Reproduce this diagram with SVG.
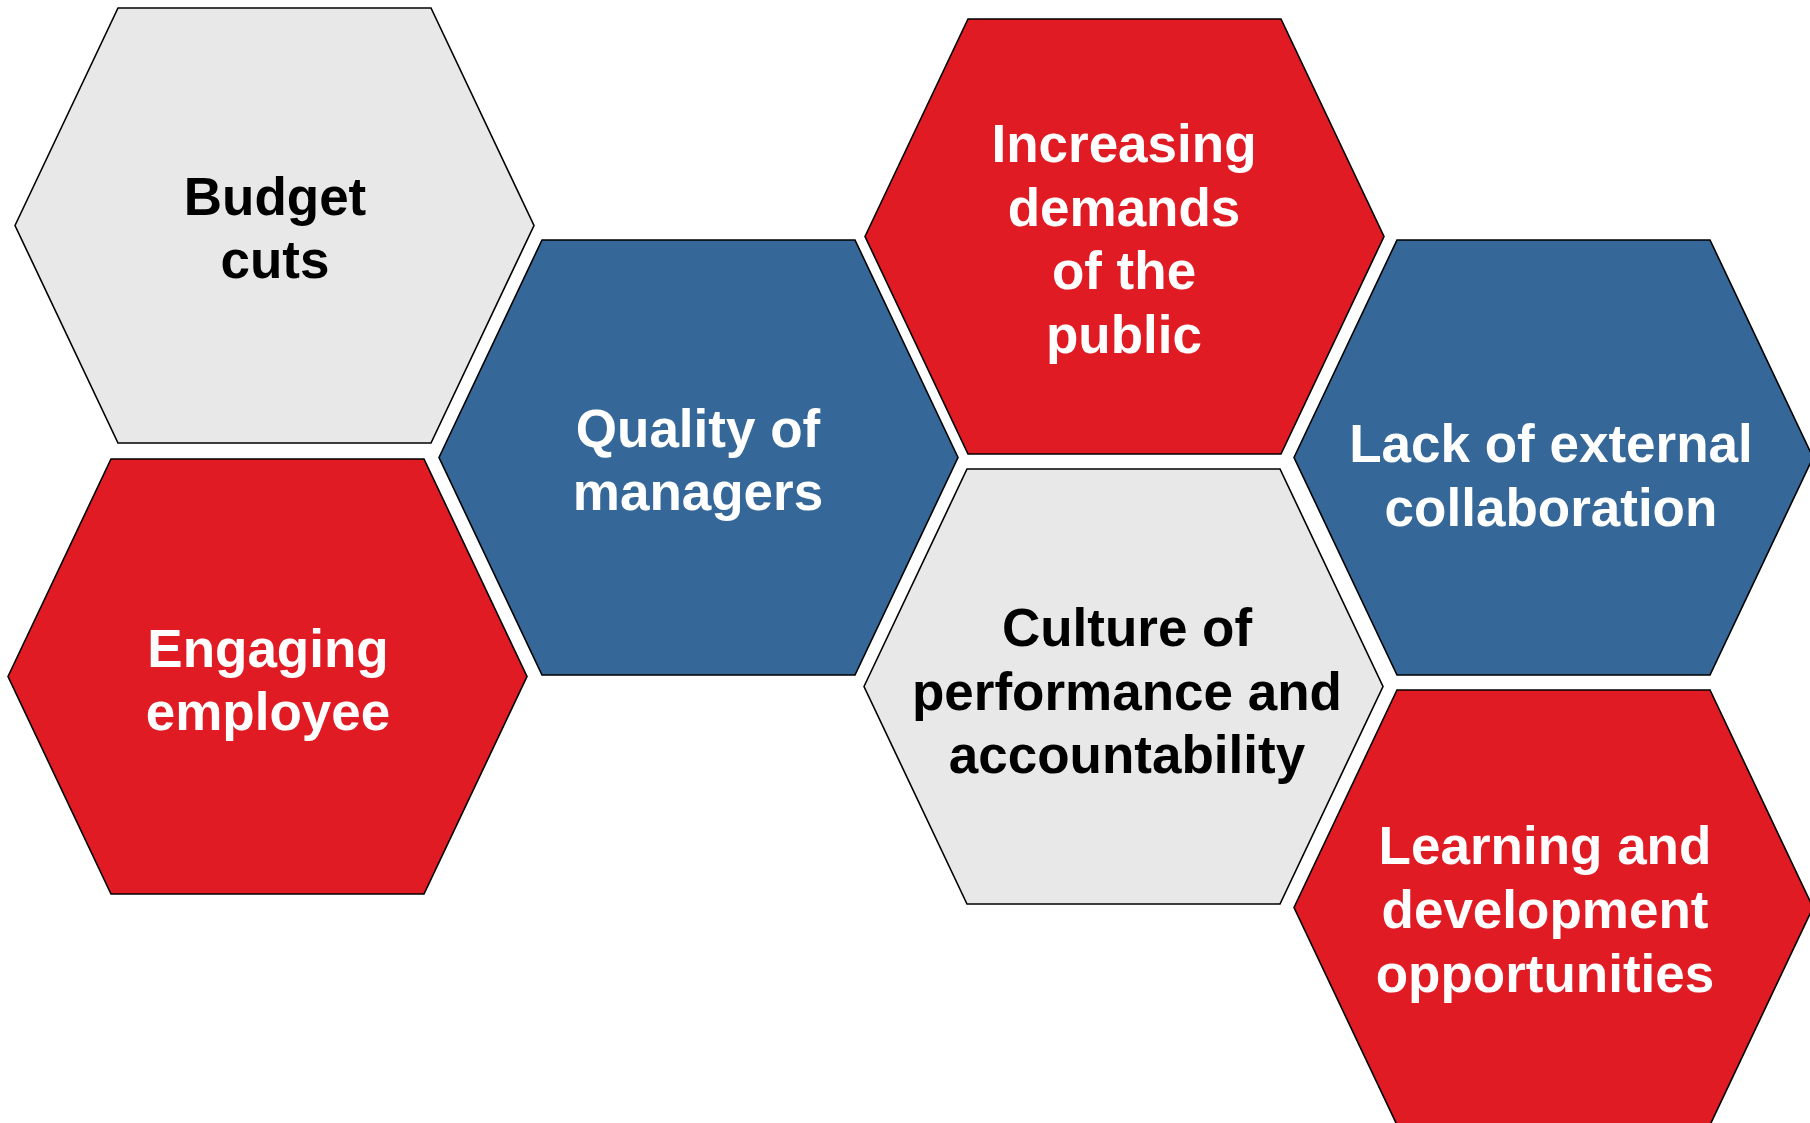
<svg xmlns="http://www.w3.org/2000/svg" xmlns:xlink="http://www.w3.org/1999/xlink" width="1810" height="1123" viewBox="0 0 1810 1123">
  <style>
    .hex { stroke: #000000; stroke-width: 1.6; stroke-linejoin: miter; }
    .gray { fill: #E8E8E8; }
    .blue { fill: #356899; }
    .red { fill: #E01B24; }
    .label { font-family: "Liberation Sans", Arial, sans-serif; font-weight: bold; font-size: 53px; text-anchor: middle; }
    .dark { fill: #000000; }
    .light { fill: #FFFFFF; }
  </style>
  <defs>
    <!-- flat-topped hexagon, 519 wide and 435 tall -->
    <polygon id="hexShape" points="0,217.5 103,0 416,0 519,217.5 416,435 103,435"/>
  </defs>
  <rect width="1810" height="1123" fill="#FFFFFF"/>

  <g id="budget-cuts">
    <use xlink:href="#hexShape" class="hex gray" transform="translate(15,8)"/>
    <text class="label dark" x="275" y="215">Budget</text>
    <text class="label dark" x="275" y="278">cuts</text>
  </g>

  <g id="quality-of-managers">
    <use xlink:href="#hexShape" class="hex blue" transform="translate(439,240)"/>
    <text class="label light" x="698" y="447">Quality of</text>
    <text class="label light" x="698" y="510">managers</text>
  </g>

  <g id="increasing-demands">
    <use xlink:href="#hexShape" class="hex red" transform="translate(865,19)"/>
    <text class="label light" x="1124" y="162">Increasing</text>
    <text class="label light" x="1124" y="226">demands</text>
    <text class="label light" x="1124" y="289">of the</text>
    <text class="label light" x="1124" y="353">public</text>
  </g>

  <g id="lack-of-external-collaboration">
    <use xlink:href="#hexShape" class="hex blue" transform="translate(1294,240)"/>
    <text class="label light" x="1551" y="462">Lack of external</text>
    <text class="label light" x="1551" y="526">collaboration</text>
  </g>

  <g id="engaging-employee">
    <use xlink:href="#hexShape" class="hex red" transform="translate(8,459)"/>
    <text class="label light" x="268" y="667">Engaging</text>
    <text class="label light" x="268" y="730">employee</text>
  </g>

  <g id="culture-of-performance">
    <use xlink:href="#hexShape" class="hex gray" transform="translate(864,469)"/>
    <text class="label dark" x="1127" y="646">Culture of</text>
    <text class="label dark" x="1127" y="710">performance and</text>
    <text class="label dark" x="1127" y="773">accountability</text>
  </g>

  <g id="learning-and-development">
    <use xlink:href="#hexShape" class="hex red" transform="translate(1294,690)"/>
    <text class="label light" x="1545" y="864">Learning and</text>
    <text class="label light" x="1545" y="928">development</text>
    <text class="label light" x="1545" y="992">opportunities</text>
  </g>
</svg>
